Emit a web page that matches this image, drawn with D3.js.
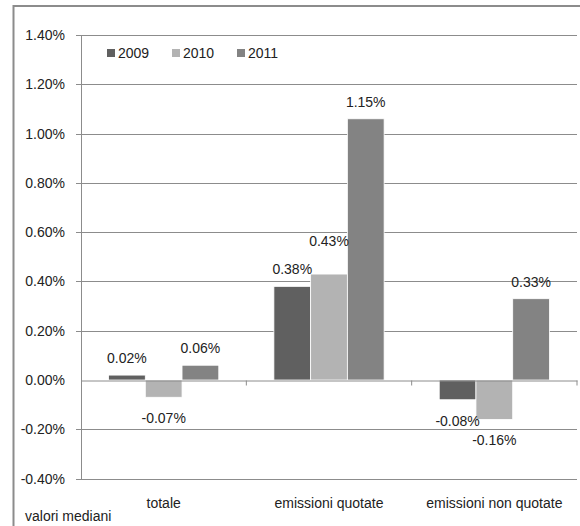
<!DOCTYPE html>
<html>
<head>
<meta charset="utf-8">
<script src="https://cdn.jsdelivr.net/npm/d3@7"></script>
<style>
  body { margin: 0; background: #fff; }
  text { font-family: "Liberation Sans", Arial, sans-serif; fill: #222; }
</style>
</head>
<body>
<div id="viz"></div>
<script>
const categories = ['totale', 'emissioni quotate', 'emissioni non quotate'];
const years = ['2009', '2010', '2011'];
// bar heights as drawn in the picture
const values2009 = [0.02, 0.38, -0.08];
const values2010 = [-0.07, 0.43, -0.16];
const values2011 = [0.06, 1.06, 0.33];
// data label texts as printed
const labels2009 = ['0.02%', '0.38%', '-0.08%'];
const labels2010 = ['-0.07%', '0.43%', '-0.16%'];
const labels2011 = ['0.06%', '1.15%', '0.33%'];
const yTickValues = [-0.4, -0.2, 0, 0.2, 0.4, 0.6, 0.8, 1.0, 1.2, 1.4];
const colors = ['#606060', '#b3b3b3', '#838383'];

const series = [values2009, values2010, values2011];
const labels = [labels2009, labels2010, labels2011];
const data = [];
categories.forEach((c, i) => {
  years.forEach((y, j) => {
    data.push({ cat: c, year: y, value: series[j][i], label: labels[j][i], j: j });
  });
});

const width = 580;
const height = 526;
const margin = { top: 35, right: 3, bottom: 48, left: 81 };
const plotWidth = width - margin.left - margin.right;
const plotHeight = 478.6 - margin.top;

const svg = d3.select('#viz')
  .append('svg')
  .attr('width', width)
  .attr('height', height);

// outer frame
svg.append('rect')
  .attr('x', 13.5)
  .attr('y', 6)
  .attr('width', 580)
  .attr('height', 540)
  .attr('fill', 'none')
  .attr('stroke', '#8c8c8c')
  .attr('stroke-width', 2);

const yScale = d3.scaleLinear()
  .domain([-0.4, 1.4])
  .range([plotHeight, 0]);

const xScale = d3.scaleBand()
  .domain(categories)
  .range([0, plotWidth]);

const x1 = d3.scaleBand()
  .domain(years)
  .range([0, xScale.bandwidth()])
  .paddingInner(0)
  .paddingOuter(0.75);

const g = svg.append('g')
  .attr('transform', `translate(${margin.left}, ${margin.top})`);

// gridlines
g.append('g')
  .selectAll('line').data(yTickValues)
  .enter().append('line')
    .attr('x1', -5)
    .attr('x2', plotWidth)
    .attr('y1', (d) => Math.round(yScale(d)) + 0.5)
    .attr('y2', (d) => Math.round(yScale(d)) + 0.5)
    .attr('stroke', (d) => d === 0 ? 'none' : '#8c8c8c')
    .attr('stroke-width', 1);

// y axis
const yAxis = g.append('g')
  .call(d3.axisLeft(yScale)
    .tickValues(yTickValues)
    .tickSize(0)
    .tickPadding(16)
    .tickFormat((d) => d.toFixed(2) + '%'));
yAxis.select('.domain').attr('stroke', '#8c8c8c');
yAxis.selectAll('text')
  .style('font-size', '14px')
  .style('font-family', '"Liberation Sans", Arial, sans-serif')
  .attr('fill', '#222');

// bars
g.append('g')
  .selectAll('rect').data(data)
  .enter().append('rect')
    .attr('x', (d) => xScale(d.cat) + x1(d.year))
    .attr('width', x1.bandwidth())
    .attr('y', (d) => yScale(Math.max(0, d.value)))
    .attr('height', (d) => Math.abs(yScale(d.value) - yScale(0)))
    .attr('fill', (d) => colors[d.j])
    .attr('stroke', '#fff')
    .attr('stroke-width', 0.8);

// zero axis with category ticks
const xAxis = g.append('g')
  .attr('transform', `translate(0, ${Math.round(yScale(0)) + 0.5})`)
  .call(d3.axisBottom(xScale).tickSize(0).tickFormat(''));
xAxis.select('.domain').attr('stroke', '#8c8c8c');
xAxis.selectAll('.cat-tick').data(categories)
  .enter().append('line')
    .attr('class', 'cat-tick')
    .attr('x1', (d) => xScale(d) + xScale.bandwidth())
    .attr('x2', (d) => xScale(d) + xScale.bandwidth())
    .attr('y1', 0)
    .attr('y2', 5)
    .attr('stroke', '#8c8c8c');

// category labels
g.append('g')
  .selectAll('text').data(categories)
  .enter().append('text')
    .attr('x', (d) => xScale(d) + xScale.bandwidth() / 2)
    .attr('y', plotHeight + 29)
    .attr('text-anchor', 'middle')
    .style('font-size', '14px')
    .text((d) => d);

// data labels
g.append('g')
  .selectAll('text').data(data)
  .enter().append('text')
    .attr('x', (d) => xScale(d.cat) + x1(d.year) + x1.bandwidth() / 2)
    .attr('y', (d) => {
      if (d.value >= 0) {
        const nudge = (d.cat === 'emissioni quotate' && d.year === '2010') ? 16 : 0;
        return yScale(d.value) - 12 - nudge;
      }
      return yScale(d.value) + 26;
    })
    .attr('text-anchor', 'middle')
    .style('font-size', '14px')
    .text((d) => d.label);

// legend
const legend = svg.append('g')
  .attr('transform', 'translate(107, 49)');
const legendItem = legend.selectAll('g').data(years)
  .enter().append('g')
    .attr('transform', (d, i) => `translate(${i * 65}, 0)`);
legendItem.append('rect')
  .attr('width', 8)
  .attr('height', 8)
  .attr('fill', (d, i) => colors[i]);
legendItem.append('text')
  .attr('x', 11)
  .attr('y', 8.5)
  .style('font-size', '14px')
  .text((d) => d);

// footer note
svg.append('text')
  .attr('x', 25)
  .attr('y', 521)
  .style('font-size', '14px')
  .text('valori mediani');
</script>
</body>
</html>
